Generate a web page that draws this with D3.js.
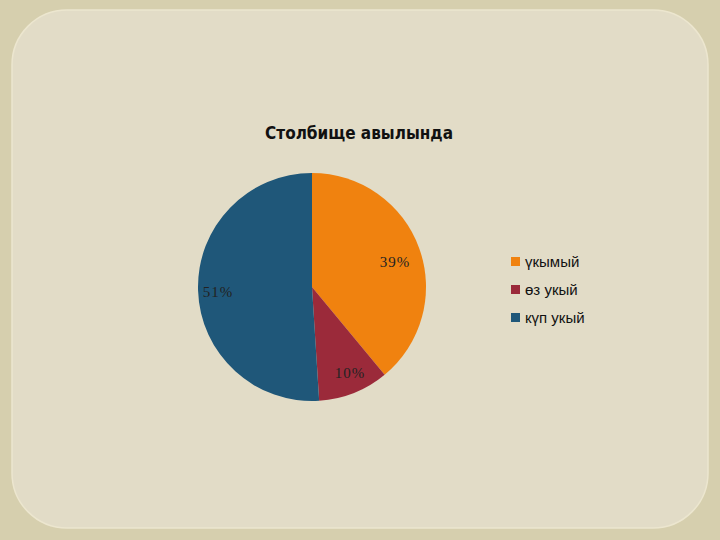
<!DOCTYPE html>
<html><head><meta charset="utf-8">
<script src="https://cdn.jsdelivr.net/npm/d3@7"></script>
<style>body{margin:0}</style></head>
<body><svg id="c" width="720" height="540"></svg>
<script>
const categories = ["үкымый", "өз укый", "күп укый"];
const values = [39, 10, 51];
const colors = ["#f0820f", "#9b2a3a", "#1f5779"];
const labelPos = [[395, 262], [350, 373], [218, 292]];

const svg = d3.select("#c");
svg.append("rect").attr("width", 720).attr("height", 540).attr("fill", "#d6cfae");
svg.append("rect").attr("x", 12).attr("y", 10).attr("width", 696).attr("height", 518)
  .attr("rx", 55).attr("fill", "#e2dcc7").attr("stroke", "#ece6cf").attr("stroke-width", 1.5);

svg.append("text").attr("x", 359).attr("y", 139).attr("text-anchor", "middle")
  .attr("font-family", "DejaVu Sans Condensed, Liberation Sans Narrow, sans-serif").attr("font-weight", "bold")
  .attr("font-size", 17).attr("fill", "#111")
  .text("Столбище авылында");

const pie = d3.pie().sort(null)(values);
const arc = d3.arc().innerRadius(0).outerRadius(114);
const g = svg.append("g").attr("transform", "translate(312,287)");
g.selectAll("path").data(pie).join("path").attr("d", arc).attr("fill", (d, i) => colors[i]);

svg.selectAll("text.lbl").data(values).join("text").attr("class", "lbl")
  .attr("x", (d, i) => labelPos[i][0]).attr("y", (d, i) => labelPos[i][1] + 5)
  .attr("text-anchor", "middle").attr("font-family", "Liberation Serif, serif")
  .attr("font-size", 15).attr("letter-spacing", 1).attr("fill", "#222").text(d => d + "%");

const lg = svg.append("g").attr("transform", "translate(511,262)");
categories.forEach((c, i) => {
  const y = i * 28;
  lg.append("rect").attr("x", 0).attr("y", y - 5).attr("width", 9).attr("height", 9).attr("fill", colors[i]);
  lg.append("text").attr("x", 14).attr("y", y + 5).attr("font-family", "Liberation Sans, sans-serif")
    .attr("font-size", 15).attr("fill", "#111").text(c);
});
</script></body></html>
